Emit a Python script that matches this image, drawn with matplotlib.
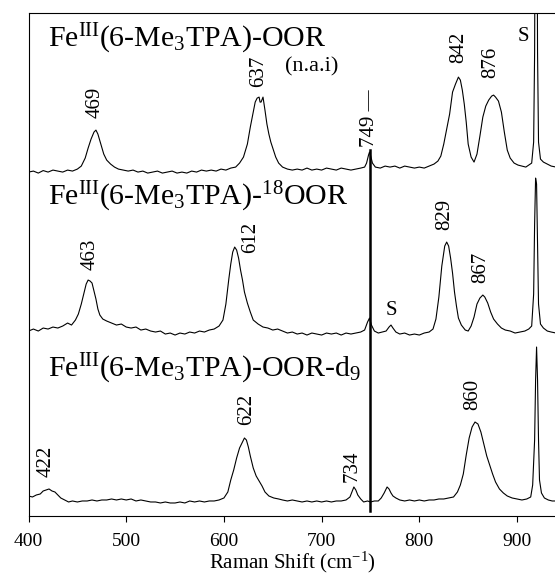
import matplotlib
matplotlib.use('Agg')
import matplotlib.pyplot as plt

plt.rcParams['font.family'] = ['Liberation Serif', 'DejaVu Serif']
plt.rcParams['mathtext.fontset'] = 'custom'
plt.rcParams['mathtext.rm'] = 'Liberation Serif'
plt.rcParams['mathtext.it'] = 'Liberation Serif:italic'

# spectra (height above each trace baseline)
x_top = [400, 405, 410, 415, 420, 425, 430, 435, 440, 445, 450, 454, 458, 461, 464, 467, 469, 471, 474, 477,
         480, 484, 488, 492, 497, 502, 507, 512, 517, 522, 527, 532, 537, 542, 547, 552, 557, 562, 567, 572,
         577, 582, 587, 592, 597, 602, 607, 612, 616, 620, 624, 627, 630, 632, 634, 636, 637, 638, 640, 642,
         644, 646, 648, 650, 653, 656, 660, 665, 670, 675, 680, 685, 690, 695, 700, 705, 710, 715, 720, 725,
         730, 735, 740, 744, 746, 748, 749, 750, 752, 755, 760, 765, 770, 775, 780, 785, 790, 795, 800, 805,
         810, 815, 819, 822, 825, 828, 831, 834, 837, 840, 842, 844, 846, 848, 850, 853, 856, 859, 862, 865,
         868, 871, 874, 876, 878, 881, 884, 887, 890, 893, 897, 901, 905, 909, 912, 915, 917, 918, 919, 920,
         921, 922, 924, 927, 931, 935, 940]
y_top = [0, 1, -1, 1.5, 0, 2, 1, 0, 2, 1, 3, 6, 14, 24, 33, 40, 42, 38, 28, 18,
         12, 8, 5, 3, 2, 1, 2, 0, 1, -1, 0, 1, -1, 0, 1, -1, 0, -1, 1, 0,
         2, 1, 2, 1, 3, 2, 4, 5, 9, 15, 28, 45, 60, 70, 74, 75, 70, 70, 75, 62,
         48, 38, 30, 24, 15, 9, 5, 3, 2, 3, 2, 4, 2, 3, 2, 4, 3, 2, 4, 3,
         2, 3, 4, 5, 9, 17, 20, 17, 9, 5, 4, 6, 5, 6, 4, 6, 5, 4, 5, 4,
         6, 8, 11, 16, 28, 43, 58, 80, 88, 95, 92, 82, 68, 50, 28, 15, 10, 18, 36, 55,
         66, 72, 76, 77, 75, 71, 60, 40, 22, 14, 9, 7, 6, 5, 7, 9, 30, 120, 400, 400,
         120, 30, 13, 10, 8, 6, 5]

x_mid = [400, 405, 410, 415, 420, 425, 430, 435, 440, 444, 448, 451, 454, 457, 459, 461, 463, 465, 467, 469,
         471, 473, 476, 480, 485, 490, 495, 500, 505, 510, 515, 520, 525, 530, 535, 540, 545, 550, 555, 560,
         565, 570, 575, 580, 585, 590, 595, 599, 602, 605, 607, 609, 611, 613, 615, 617, 619, 621, 624, 627,
         630, 635, 640, 645, 650, 655, 660, 665, 670, 675, 680, 685, 690, 695, 700, 705, 710, 715, 720, 725,
         730, 735, 740, 744, 747, 749, 751, 754, 758, 762, 766, 769, 771, 773, 776, 780, 785, 790, 795, 800,
         805, 810, 814, 817, 820, 823, 826, 828, 830, 832, 834, 836, 838, 840, 843, 847, 850, 853, 856, 859,
         862, 865, 867, 870, 873, 876, 880, 884, 888, 893, 898, 903, 908, 912, 915, 917, 918, 919, 920, 921,
         922, 924, 927, 931, 935, 940]
y_mid = [3, 5, 3, 6, 5, 7, 6, 8, 11, 9, 14, 20, 30, 42, 50, 54, 53, 51, 43, 35,
         25, 19, 15, 13, 11, 9, 10, 7, 6, 7, 4, 5, 3, 2, 3, 0, 1, -1, 1, 0,
         2, 1, 3, 2, 4, 5, 8, 14, 30, 55, 70, 82, 87, 84, 76, 64, 54, 42, 31, 22,
         14, 10, 7, 6, 4, 5, 3, 1, 2, 0, 1, -1, 1, 0, -1, 1, 0, 1, -1, 1,
         0, 1, 2, 4, 12, 16, 9, 3, 1, 2, 3, 7, 9, 6, 2, 0, 1, -1, 0, -1,
         1, 2, 5, 15, 37, 68, 88, 92, 88, 76, 61, 42, 28, 16, 9, 4, 3, 8, 17, 30,
         36, 39, 37, 31, 22, 15, 10, 6, 4, 3, 1, 2, 3, 5, 8, 40, 110, 156, 150, 90,
         30, 10, 6, 3, 2, 1]

x_bot = [400, 404, 408, 412, 415, 418, 421, 424, 427, 430, 433, 437, 441, 445, 450, 455, 460, 465, 470, 475,
         480, 485, 490, 495, 500, 505, 510, 515, 520, 525, 530, 535, 540, 545, 550, 555, 560, 565, 570, 575,
         580, 585, 590, 595, 600, 604, 607, 610, 613, 616, 619, 621, 623, 625, 627, 630, 633, 636, 639, 642,
         646, 651, 656, 660, 665, 670, 675, 680, 685, 690, 695, 700, 705, 710, 715, 720, 725, 729, 731, 733,
         735, 737, 740, 743, 747, 750, 754, 758, 761, 764, 767, 769, 771, 773, 776, 780, 785, 790, 795, 800,
         805, 810, 815, 820, 825, 830, 835, 839, 842, 845, 848, 851, 854, 857, 860, 863, 866, 869, 872, 875,
         878, 882, 886, 890, 895, 900, 905, 910, 914, 916, 918, 919, 920, 921, 922, 923, 925, 928, 932, 936,
         940]
y_bot = [4, 3, 5, 6, 9, 10, 11, 9, 8, 5, 2, 0, -2, -1, -2, -1, -1, 0, -1, 0,
         0, 1, 0, 1, 0, 1, -1, 0, -1, -2, -2, -3, -2, -3, -3, -2, -3, -1, -2, -1,
         -2, -1, -1, 0, 2, 8, 20, 30, 42, 52, 58, 62, 60, 53, 44, 32, 24, 19, 14, 8,
         4, 2, 1, 0, -1, 0, -1, -2, -1, -2, -1, -2, -1, -2, -1, -1, 0, 3, 8, 13,
         10, 5, 1, -2, -1, -2, -1, -1, 2, 7, 13, 11, 7, 4, 2, 0, -1, 0, -1, 0,
         -1, 0, 0, 1, 1, 2, 3, 8, 15, 26, 45, 62, 73, 78, 76, 68, 56, 44, 35, 26,
         18, 11, 7, 4, 2, 1, 0, 1, 3, 15, 60, 120, 153, 120, 60, 20, 7, 2, 0, -1,
         -1]

offsets = [344, 182, 16]
titles = [r'Fe$^{\mathrm{III}}$(6-Me$_3$TPA)-OOR',
          r'Fe$^{\mathrm{III}}$(6-Me$_3$TPA)-$^{\mathrm{18}}$OOR',
          r'Fe$^{\mathrm{III}}$(6-Me$_3$TPA)-OOR-d$_9$']
title_y = [469, 311, 139]

# rotated peak labels: (text, x, y of text bottom)
peak_labels = [('469', 468, 398), ('637', 636, 429), ('749 \u2014', 748.5, 369),
               ('842', 840.5, 453), ('876', 873.5, 438),
               ('463', 463, 246), ('612', 627, 263), ('829', 826, 286), ('867', 863, 233),
               ('422', 418, 39), ('622', 623.5, 91), ('734', 731, 34), ('860', 855, 106)]
solvent_labels = [('S', 906, 480), ('S', 771, 206)]

fig = plt.figure(figsize=(5.55, 5.78), dpi=100)
ax = fig.add_axes([0.0514, 0.1073, 0.9506, 0.870])

for xs, ys, off in zip([x_top, x_mid, x_bot], [y_top, y_mid, y_bot], offsets):
    ax.plot(xs, [v + off for v in ys], color='black', lw=0.8)

# marker line at 749
ax.plot([749, 749], [5, 366], color='black', lw=1.8)

for t, ty in zip(titles, title_y):
    ax.text(420, ty, t, fontsize=21.5, ha='left', va='baseline')
ax.text(662.5, 449, '(n.a.i)', fontsize=16, ha='left', va='center')

for t, px, py in peak_labels:
    ax.text(px, py, t, fontsize=15, rotation=90, ha='center', va='bottom')
for t, px, py in solvent_labels:
    ax.text(px, py, t, fontsize=15, ha='center', va='center')

ax.set_xlim(400, 940)
ax.set_ylim(0, 503)
ax.set_xticks([400, 500, 600, 700, 800, 900])
ax.set_yticks([])
ax.tick_params(axis='x', direction='out', length=4, labelsize=14, pad=8)
ax.spines['right'].set_visible(False)
ax.set_xlabel('Raman Shift (cm$^{\\mathrm{-1}}$)', fontsize=15, labelpad=0)

fig.savefig('out.png', dpi=100)
